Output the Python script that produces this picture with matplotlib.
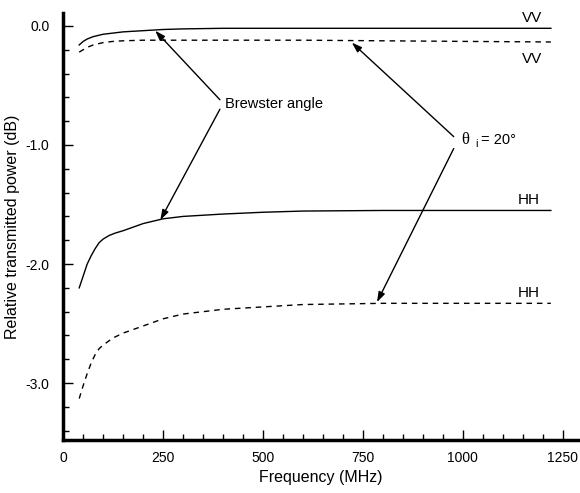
import matplotlib.pyplot as plt
import numpy as np
from matplotlib.ticker import MultipleLocator, FormatStrFormatter

plt.rcParams['font.family'] = ['Liberation Sans', 'DejaVu Sans']
plt.rcParams['axes.unicode_minus'] = False

# Brewster angle curves (solid)
vv_brew_f = [40, 50, 60, 75, 100, 125, 150, 200, 250, 300, 400, 600, 800, 1000, 1220]
vv_brew_db = [-0.16, -0.13, -0.11, -0.09, -0.07, -0.06, -0.05, -0.04, -0.03,
              -0.025, -0.02, -0.02, -0.02, -0.02, -0.02]
hh_brew_f = [40, 50, 60, 70, 80, 90, 100, 115, 130, 150, 175, 200, 250, 300,
             400, 500, 600, 800, 1000, 1220]
hh_brew_db = [-2.20, -2.10, -2.00, -1.93, -1.87, -1.82, -1.79, -1.76, -1.74, -1.72,
              -1.69, -1.66, -1.62, -1.60, -1.58, -1.565, -1.555, -1.55, -1.55, -1.55]

# theta_i = 20 deg curves (dashed)
vv_20_f = [40, 50, 60, 75, 100, 125, 150, 200, 250, 400, 600, 800, 1000, 1220]
vv_20_db = [-0.22, -0.20, -0.18, -0.16, -0.14, -0.13, -0.125, -0.12, -0.12,
            -0.12, -0.12, -0.125, -0.13, -0.135]
hh_20_f = [40, 50, 60, 70, 80, 90, 100, 125, 150, 200, 250, 300, 350, 400,
           500, 600, 800, 1000, 1220]
hh_20_db = [-3.13, -3.02, -2.92, -2.83, -2.76, -2.71, -2.68, -2.62, -2.58, -2.52,
            -2.46, -2.42, -2.40, -2.38, -2.36, -2.34, -2.33, -2.33, -2.33]

fig = plt.figure(figsize=(5.8, 4.93), dpi=100)
ax = fig.add_axes([0.109, 0.107, 0.889, 0.867])

dash = (0, (4, 3.5))
ax.plot(vv_brew_f, vv_brew_db, color='black', lw=1.0)
ax.plot(hh_brew_f, hh_brew_db, color='black', lw=1.0)
ax.plot(vv_20_f, vv_20_db, color='black', lw=1.0, linestyle=dash)
ax.plot(hh_20_f, hh_20_db, color='black', lw=1.0, linestyle=dash)

ax.set_xlim(0, 1290)
ax.set_ylim(-3.48, 0.11)
ax.xaxis.set_major_locator(MultipleLocator(250))
ax.xaxis.set_minor_locator(MultipleLocator(50))
ax.yaxis.set_major_locator(MultipleLocator(1.0))
ax.yaxis.set_minor_locator(MultipleLocator(0.2))
ax.yaxis.set_major_formatter(FormatStrFormatter('%.1f'))
ax.tick_params(which='major', direction='in', length=7, width=1, labelsize=10)
ax.tick_params(which='minor', direction='in', length=4, width=1)
ax.tick_params(axis='x', which='major', pad=8)
ax.tick_params(axis='y', which='major', pad=10)
ax.spines['top'].set_visible(False)
ax.spines['right'].set_visible(False)
ax.spines['left'].set_linewidth(2.5)
ax.spines['bottom'].set_linewidth(2.5)

ax.set_xlabel('Frequency (MHz)', fontsize=11.5, labelpad=3)
ax.set_ylabel('Relative transmitted power (dB)', fontsize=11.5, labelpad=4)

# curve labels
ax.text(1172, 0.07, 'VV', fontsize=11, ha='center', va='center')
ax.text(1172, -0.28, 'VV', fontsize=11, ha='center', va='center')
ax.text(1165, -1.46, 'HH', fontsize=11, ha='center', va='center')
ax.text(1165, -2.24, 'HH', fontsize=11, ha='center', va='center')

arrow = dict(arrowstyle='-|>,head_length=0.6,head_width=0.2', color='black',
             lw=1.0, mutation_scale=10, shrinkA=0, shrinkB=0)
ax.text(405, -0.66, 'Brewster angle', fontsize=10.5, ha='left', va='center')
ax.annotate('', xy=(230, -0.04), xytext=(392, -0.62), arrowprops=arrow)
ax.annotate('', xy=(243, -1.63), xytext=(392, -0.70), arrowprops=arrow)

ax.text(996, -0.96, '\u03b8', fontsize=12, ha='left', va='center',
        family='Liberation Serif')
ax.text(1030, -0.99, 'i', fontsize=8, ha='left', va='center')
ax.text(1045, -0.96, '= 20°', fontsize=10.5, ha='left', va='center')
ax.annotate('', xy=(722, -0.14), xytext=(977, -0.93), arrowprops=arrow)
ax.annotate('', xy=(785, -2.32), xytext=(977, -1.03), arrowprops=arrow)

fig.savefig('out.png', dpi=100)
